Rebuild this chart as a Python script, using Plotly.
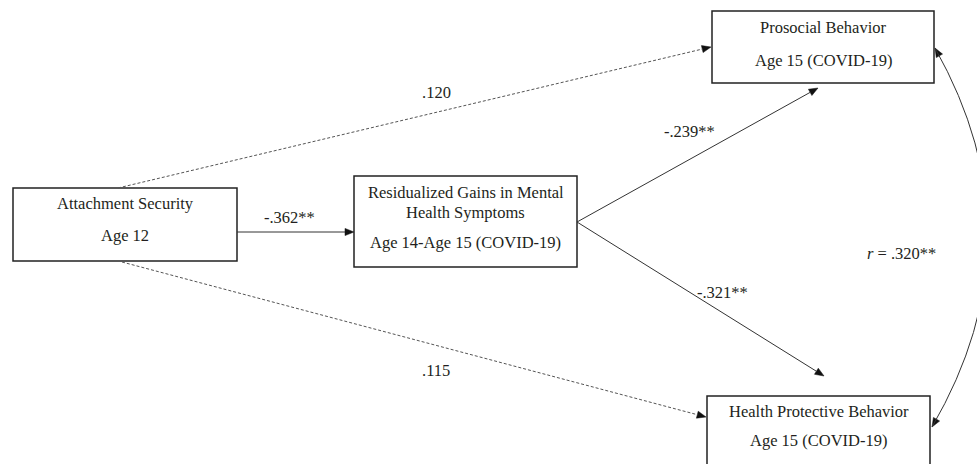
import numpy as np
import plotly.graph_objects as go

# ---- content ----
node_lines = [
    ["Attachment Security", "Age 12"],
    ["Residualized Gains in Mental", "Health Symptoms", "Age 14-Age 15 (COVID-19)"],
    ["Prosocial Behavior", "Age 15 (COVID-19)"],
    ["Health Protective Behavior", "Age 15 (COVID-19)"],
]
path_labels = [".120", "-.362**", "-.239**", "-.321**", ".115"]
corr_label = "<i>r</i> = .320**"

# ---- layout (pixel geometry) ----
W, H = 977, 464
boxes = [(13, 188, 237, 261), (354, 176, 577, 267), (712, 11, 934, 83), (707, 396, 930, 475)]
text_y = [[203, 235], [192, 212, 242], [27, 60], [411, 440]]
# edges: (tail, tip, dashed)
edges = [
    ((118, 188), (711, 47), True),
    ((237, 232), (354, 232), False),
    ((577, 222), (818, 88), False),
    ((577, 222), (824, 376), False),
    ((122, 262), (706, 417), True),
]
label_pos = [(436, 92), (289, 217), (689, 131), (722, 292), (436, 370)]
curve = [(935, 48), (1042, 238), (932, 427)]
corr_pos = (901, 253)

FONT = "Liberation Serif, Times New Roman, serif"
FS = 16.5
TXT = "#231f20"
LINE = "#333333"

fig = go.Figure()
shapes = []
annotations = []

for (x0, y0, x1, y1) in boxes:
    shapes.append(dict(type="rect", xref="x", yref="y", x0=x0, y0=y0, x1=x1, y1=y1,
                       line=dict(color="#222222", width=1.5), fillcolor="rgba(0,0,0,0)"))

for lines, ys, (x0, y0, x1, y1) in zip(node_lines, text_y, boxes):
    for t, y in zip(lines, ys):
        annotations.append(dict(x=(x0 + x1) / 2, y=y, xref="x", yref="y", text=t, showarrow=False,
                                font=dict(family=FONT, size=FS, color=TXT), xanchor="center", yanchor="middle"))


def head(tip, tail, L=9.0, Wd=3.6):
    tip = np.array(tip, float)
    d = tip - np.array(tail, float)
    d /= np.linalg.norm(d)
    base = tip - L * d
    p = np.array([-d[1], d[0]])
    pts = [tip, base + Wd * p, base - Wd * p, tip]
    return [q[0] for q in pts], [q[1] for q in pts], base


for tail, tip, dashed in edges:
    xs, ys, base = head(tip, tail)
    shapes.append(dict(type="line", xref="x", yref="y", x0=tail[0], y0=tail[1], x1=base[0], y1=base[1],
                       line=dict(color="#555555" if dashed else LINE, width=1, dash="3px,2px" if dashed else "solid")))
    fig.add_trace(go.Scatter(x=xs, y=ys, mode="lines", fill="toself", fillcolor="#111111",
                             line=dict(color="#111111", width=0.5), hoverinfo="skip", showlegend=False))

for t, (x, y) in zip(path_labels, label_pos):
    annotations.append(dict(x=x, y=y, xref="x", yref="y", text=t, showarrow=False,
                            font=dict(family=FONT, size=FS, color=TXT), xanchor="center", yanchor="middle"))

# correlation curve
p0, c, p2 = curve
shapes.append(dict(type="path", xref="x", yref="y",
                   path=f"M {p0[0]},{p0[1]} Q {c[0]},{c[1]} {p2[0]},{p2[1]}",
                   line=dict(color=LINE, width=1)))
for tip in (p0, p2):
    xs, ys, _ = head(tip, c)
    fig.add_trace(go.Scatter(x=xs, y=ys, mode="lines", fill="toself", fillcolor="#111111",
                             line=dict(color="#111111", width=0.5), hoverinfo="skip", showlegend=False))
annotations.append(dict(x=corr_pos[0], y=corr_pos[1], xref="x", yref="y", text=corr_label, showarrow=False,
                        font=dict(family=FONT, size=FS, color=TXT), xanchor="center", yanchor="middle"))

fig.update_layout(
    width=W, height=H, margin=dict(l=0, r=0, t=0, b=0),
    paper_bgcolor="white", plot_bgcolor="white",
    xaxis=dict(range=[0, W], visible=False, fixedrange=True),
    yaxis=dict(range=[H, 0], visible=False, fixedrange=True),
    shapes=shapes, annotations=annotations, showlegend=False,
)
fig.write_html("out.html", config={"displayModeBar": False},
               post_script="document.body.style.margin='0';document.body.style.overflow='hidden';")
